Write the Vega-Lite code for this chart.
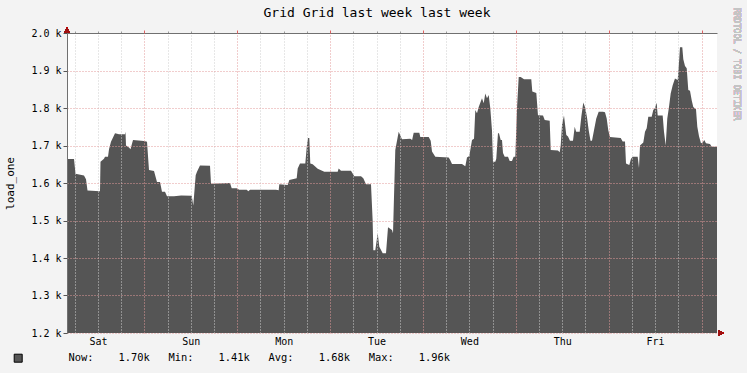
{
  "$schema": "https://vega.github.io/schema/vega-lite/v6.json",
  "autosize": "none",
  "width": 650,
  "height": 300,
  "padding": {"left": 67, "top": 33, "right": 30, "bottom": 40},
  "background": "#f3f3f3",
  "view": {"fill": "#ffffff", "stroke": null},
  "config": {
    "font": "DejaVu Sans Mono",
    "axis": {"labelFont": "DejaVu Sans Mono", "titleFont": "DejaVu Sans Mono", "labelColor": "#000000", "titleColor": "#000000"}
  },
  "title": {
    "text": "Grid Grid last week last week",
    "font": "DejaVu Sans Mono",
    "fontSize": 13,
    "fontWeight": "normal",
    "color": "#000000",
    "anchor": "middle",
    "frame": "group",
    "dx": -15,
    "offset": -12
  },
  "data": {
    "values": [
      {"t": 4.0, "v": 1.664}, {"t": 5.81, "v": 1.664}, {"t": 6.2, "v": 1.625}, {"t": 8.39, "v": 1.62},
      {"t": 8.91, "v": 1.61}, {"t": 9.3, "v": 1.58}, {"t": 12.53, "v": 1.578}, {"t": 12.66, "v": 1.657},
      {"t": 13.56, "v": 1.665}, {"t": 13.82, "v": 1.67}, {"t": 14.6, "v": 1.67}, {"t": 14.86, "v": 1.69},
      {"t": 15.37, "v": 1.71}, {"t": 16.41, "v": 1.733}, {"t": 17.44, "v": 1.73}, {"t": 18.99, "v": 1.73},
      {"t": 19.12, "v": 1.737}, {"t": 19.25, "v": 1.7}, {"t": 20.02, "v": 1.695}, {"t": 20.41, "v": 1.69},
      {"t": 21.06, "v": 1.715}, {"t": 23.9, "v": 1.712}, {"t": 24.68, "v": 1.71}, {"t": 25.19, "v": 1.635},
      {"t": 26.49, "v": 1.632}, {"t": 27.26, "v": 1.603}, {"t": 28.04, "v": 1.603}, {"t": 28.55, "v": 1.577},
      {"t": 29.33, "v": 1.577}, {"t": 29.85, "v": 1.565}, {"t": 31.66, "v": 1.565}, {"t": 33.5, "v": 1.567},
      {"t": 36.23, "v": 1.566}, {"t": 36.64, "v": 1.54}, {"t": 37.26, "v": 1.621}, {"t": 37.6, "v": 1.63},
      {"t": 38.37, "v": 1.647}, {"t": 40.96, "v": 1.646}, {"t": 41.22, "v": 1.598}, {"t": 46.13, "v": 1.6},
      {"t": 46.57, "v": 1.586}, {"t": 47.86, "v": 1.586}, {"t": 48.5, "v": 1.582}, {"t": 50.45, "v": 1.582},
      {"t": 50.86, "v": 1.578}, {"t": 51.3, "v": 1.582}, {"t": 58.0, "v": 1.582}, {"t": 58.72, "v": 1.581},
      {"t": 58.87, "v": 1.597}, {"t": 61.04, "v": 1.595}, {"t": 61.46, "v": 1.608}, {"t": 63.37, "v": 1.613},
      {"t": 63.63, "v": 1.639}, {"t": 64.22, "v": 1.652}, {"t": 65.59, "v": 1.652}, {"t": 66.0, "v": 1.7},
      {"t": 66.3, "v": 1.72}, {"t": 66.63, "v": 1.72}, {"t": 66.88, "v": 1.652}, {"t": 67.5, "v": 1.65},
      {"t": 68.8, "v": 1.638}, {"t": 70.5, "v": 1.63}, {"t": 73.96, "v": 1.63}, {"t": 74.22, "v": 1.639},
      {"t": 74.82, "v": 1.633}, {"t": 77.4, "v": 1.633}, {"t": 78.26, "v": 1.618}, {"t": 79.99, "v": 1.618},
      {"t": 80.58, "v": 1.613}, {"t": 81.28, "v": 1.597}, {"t": 82.57, "v": 1.597}, {"t": 83.0, "v": 1.5},
      {"t": 83.17, "v": 1.421}, {"t": 83.68, "v": 1.421}, {"t": 84.3, "v": 1.466}, {"t": 84.72, "v": 1.43},
      {"t": 85.6, "v": 1.413}, {"t": 86.45, "v": 1.413}, {"t": 86.97, "v": 1.482}, {"t": 88.0, "v": 1.475},
      {"t": 88.26, "v": 1.466}, {"t": 88.85, "v": 1.688}, {"t": 89.73, "v": 1.737}, {"t": 90.58, "v": 1.717},
      {"t": 92.73, "v": 1.718}, {"t": 93.2, "v": 1.715}, {"t": 93.61, "v": 1.734}, {"t": 95.06, "v": 1.734},
      {"t": 95.31, "v": 1.723}, {"t": 97.49, "v": 1.723}, {"t": 98.0, "v": 1.713}, {"t": 98.34, "v": 1.684},
      {"t": 99.19, "v": 1.67}, {"t": 102.65, "v": 1.668}, {"t": 103.0, "v": 1.662}, {"t": 103.51, "v": 1.651},
      {"t": 106.09, "v": 1.651}, {"t": 106.95, "v": 1.645}, {"t": 107.38, "v": 1.668}, {"t": 107.98, "v": 1.672},
      {"t": 108.68, "v": 1.715}, {"t": 109.2, "v": 1.718}, {"t": 109.53, "v": 1.795}, {"t": 109.97, "v": 1.786},
      {"t": 110.41, "v": 1.803}, {"t": 111.26, "v": 1.826}, {"t": 111.7, "v": 1.813}, {"t": 112.11, "v": 1.839},
      {"t": 112.55, "v": 1.826}, {"t": 112.99, "v": 1.835}, {"t": 113.4, "v": 1.8}, {"t": 113.84, "v": 1.741},
      {"t": 114.1, "v": 1.657}, {"t": 114.7, "v": 1.657}, {"t": 114.95, "v": 1.665}, {"t": 115.39, "v": 1.733},
      {"t": 115.65, "v": 1.733}, {"t": 116.09, "v": 1.715}, {"t": 116.43, "v": 1.715}, {"t": 116.69, "v": 1.68},
      {"t": 117.13, "v": 1.67}, {"t": 117.98, "v": 1.67}, {"t": 118.42, "v": 1.659}, {"t": 119.01, "v": 1.659},
      {"t": 119.45, "v": 1.67}, {"t": 119.87, "v": 1.67}, {"t": 120.31, "v": 1.8}, {"t": 120.75, "v": 1.883},
      {"t": 121.26, "v": 1.883}, {"t": 122.12, "v": 1.877}, {"t": 124.0, "v": 1.877}, {"t": 124.26, "v": 1.844},
      {"t": 125.3, "v": 1.84}, {"t": 125.73, "v": 1.781}, {"t": 127.03, "v": 1.78}, {"t": 127.47, "v": 1.768},
      {"t": 128.76, "v": 1.766}, {"t": 129.02, "v": 1.688}, {"t": 130.9, "v": 1.687}, {"t": 131.34, "v": 1.682},
      {"t": 131.6, "v": 1.7}, {"t": 131.94, "v": 1.755}, {"t": 132.45, "v": 1.78}, {"t": 133.05, "v": 1.728},
      {"t": 133.49, "v": 1.724}, {"t": 134.0, "v": 1.713}, {"t": 134.78, "v": 1.713}, {"t": 135.22, "v": 1.75},
      {"t": 135.6, "v": 1.737}, {"t": 136.51, "v": 1.737}, {"t": 136.93, "v": 1.777}, {"t": 137.44, "v": 1.815},
      {"t": 137.96, "v": 1.8}, {"t": 138.4, "v": 1.775}, {"t": 138.84, "v": 1.741}, {"t": 139.3, "v": 1.713},
      {"t": 139.69, "v": 1.713}, {"t": 140.21, "v": 1.741}, {"t": 140.8, "v": 1.772}, {"t": 141.42, "v": 1.79},
      {"t": 142.53, "v": 1.79}, {"t": 143.05, "v": 1.789}, {"t": 143.49, "v": 1.772}, {"t": 143.9, "v": 1.741},
      {"t": 144.34, "v": 1.723}, {"t": 147.11, "v": 1.72}, {"t": 147.62, "v": 1.711}, {"t": 148.22, "v": 1.711},
      {"t": 148.48, "v": 1.652}, {"t": 149.33, "v": 1.648}, {"t": 149.77, "v": 1.665}, {"t": 150.21, "v": 1.67},
      {"t": 151.5, "v": 1.67}, {"t": 151.84, "v": 1.64}, {"t": 152.1, "v": 1.7}, {"t": 152.95, "v": 1.708},
      {"t": 153.39, "v": 1.737}, {"t": 153.83, "v": 1.746}, {"t": 154.24, "v": 1.777}, {"t": 155.12, "v": 1.777},
      {"t": 155.53, "v": 1.795}, {"t": 155.97, "v": 1.8}, {"t": 156.41, "v": 1.814}, {"t": 156.67, "v": 1.78},
      {"t": 157.96, "v": 1.78}, {"t": 158.3, "v": 1.737}, {"t": 158.74, "v": 1.7}, {"t": 159.15, "v": 1.772},
      {"t": 159.59, "v": 1.803}, {"t": 160.03, "v": 1.839}, {"t": 160.55, "v": 1.861}, {"t": 161.14, "v": 1.879},
      {"t": 161.84, "v": 1.875}, {"t": 162.25, "v": 1.932}, {"t": 162.43, "v": 1.962}, {"t": 163.03, "v": 1.962},
      {"t": 163.29, "v": 1.93}, {"t": 163.73, "v": 1.912}, {"t": 164.17, "v": 1.906}, {"t": 164.58, "v": 1.848},
      {"t": 165.02, "v": 1.846}, {"t": 165.46, "v": 1.821}, {"t": 165.87, "v": 1.803}, {"t": 166.57, "v": 1.797},
      {"t": 166.91, "v": 1.75}, {"t": 167.35, "v": 1.725}, {"t": 167.86, "v": 1.706}, {"t": 168.3, "v": 1.708},
      {"t": 168.71, "v": 1.715}, {"t": 169.15, "v": 1.706}, {"t": 170.19, "v": 1.704}, {"t": 170.63, "v": 1.697},
      {"t": 172.0, "v": 1.697}
    ]
  },
  "layer": [
    {
      "mark": {"type": "area", "clip": true, "interpolate": "linear"},
      "encoding": {
        "x": {
          "field": "t", "type": "quantitative",
          "scale": {"domain": [4, 172], "nice": false, "zero": false},
          "axis": {
            "values": [12, 36, 60, 84, 108, 132, 156],
            "labelExpr": "['Sat','Sun','Mon','Tue','Wed','Thu','Fri'][round((datum.value-12)/24)]",
            "grid": false, "ticks": false, "tickSize": 0, "domain": false,
            "labelPadding": 3, "labelFontSize": 10, "labelFont": "DejaVu Sans Mono",
            "title": null
          }
        },
        "y": {
          "field": "v", "type": "quantitative",
          "scale": {"domain": [1.2, 2.0], "nice": false, "zero": false},
          "axis": {
            "values": [1.2, 1.3, 1.4, 1.5, 1.6, 1.7, 1.8, 1.9, 2.0],
            "labelExpr": "format(datum.value, '.1f') + ' k'",
            "labelFontSize": 10, "labelFont": "DejaVu Sans Mono",
            "tickSize": 4, "tickColor": "#555555", "labelPadding": 2,
            "domainColor": "#707070",
            "grid": true, "gridColor": "#e39a9a", "gridDash": [1, 2], "gridWidth": 1,
            "zindex": 1,
            "title": "load_one", "titleFontSize": 11, "titleFontWeight": "normal",
            "titleFont": "DejaVu Sans Mono", "titlePadding": 15
          }
        },
        "color": {
          "datum": "Now:\u00a0\u00a0\u00a0\u00a01.70k\u00a0\u00a0\u00a0Min:\u00a0\u00a0\u00a0\u00a01.41k\u00a0\u00a0\u00a0Avg:\u00a0\u00a0\u00a0\u00a01.68k\u00a0\u00a0\u00a0Max:\u00a0\u00a0\u00a0\u00a01.96k",
          "type": "nominal",
          "scale": {"range": ["#555555"]},
          "legend": {
            "orient": "none", "legendX": -54, "legendY": 320,
            "title": null, "symbolType": "square", "symbolSize": 64,
            "symbolStrokeColor": "#000000", "symbolStrokeWidth": 1,
            "labelFont": "DejaVu Sans Mono", "labelFontSize": 10.4, "labelColor": "#000000",
            "labelOffset": 45, "labelLimit": 0
          }
        }
      }
    },
    {
      "mark": {"type": "line", "opacity": 0},
      "encoding": {
        "x": {
          "field": "t", "type": "quantitative",
          "scale": {"domain": [4, 172], "nice": false, "zero": false},
          "axis": {
            "values": [6, 12, 18, 30, 36, 42, 54, 60, 66, 78, 84, 90, 102, 108, 114, 126, 132, 138, 150, 156, 162],
            "labels": false, "domain": true, "domainColor": "#707070",
            "tickSize": 2, "tickColor": "#999999",
            "grid": true, "gridColor": "#cfcfcf", "gridDash": [1, 2], "gridWidth": 1,
            "zindex": 1, "title": null
          }
        },
        "y": {"field": "v", "type": "quantitative", "scale": {"domain": [1.2, 2.0], "nice": false, "zero": false}, "axis": null}
      }
    },
    {
      "mark": {"type": "line", "opacity": 0},
      "encoding": {
        "x": {
          "field": "t", "type": "quantitative",
          "scale": {"domain": [4, 172], "nice": false, "zero": false},
          "axis": {
            "values": [24, 48, 72, 96, 120, 144, 168],
            "labels": false, "domain": false,
            "tickSize": 3, "tickColor": "#e06060",
            "grid": true, "gridColor": "#e39a9a", "gridDash": [1, 2], "gridWidth": 1,
            "zindex": 1, "title": null
          }
        },
        "y": {"field": "v", "type": "quantitative", "scale": {"domain": [1.2, 2.0], "nice": false, "zero": false}, "axis": null}
      }
    },
    {
      "mark": {"type": "point", "shape": "triangle-up", "filled": true, "color": "#a01010", "size": 28, "yOffset": -3, "opacity": 1},
      "encoding": {
        "x": {"datum": 4, "type": "quantitative", "scale": {"domain": [4, 172], "nice": false, "zero": false}, "axis": null},
        "y": {"datum": 2.0, "type": "quantitative", "scale": {"domain": [1.2, 2.0], "nice": false, "zero": false}, "axis": null}
      }
    },
    {
      "mark": {"type": "point", "shape": "triangle-right", "filled": true, "color": "#a01010", "size": 28, "xOffset": 4, "opacity": 1},
      "encoding": {
        "x": {"datum": 172, "type": "quantitative", "scale": {"domain": [4, 172], "nice": false, "zero": false}, "axis": null},
        "y": {"datum": 1.2, "type": "quantitative", "scale": {"domain": [1.2, 2.0], "nice": false, "zero": false}, "axis": null}
      }
    },
    {
      "mark": {"type": "text", "text": "RRDTOOL / TOBI OETIKER", "angle": 90, "align": "left", "baseline": "middle", "font": "DejaVu Sans Mono", "fontSize": 8.5, "color": "#c4c4c4"},
      "encoding": {
        "x": {"datum": 177.2, "type": "quantitative", "scale": {"domain": [4, 172], "nice": false, "zero": false}, "axis": null},
        "y": {"datum": 2.067, "type": "quantitative", "scale": {"domain": [1.2, 2.0], "nice": false, "zero": false}, "axis": null}
      }
    }
  ],
  "resolve": {"axis": {"x": "independent", "y": "independent"}}
}
